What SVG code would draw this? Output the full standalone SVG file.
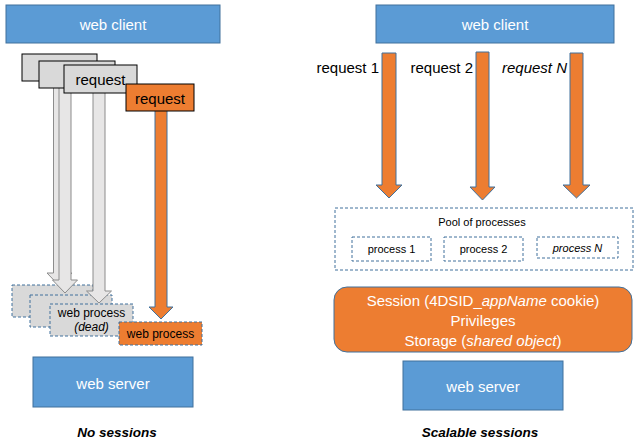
<svg xmlns="http://www.w3.org/2000/svg" width="642" height="442" viewBox="0 0 642 442">
<style>
text{font-family:"Liberation Sans",Arial,sans-serif;text-anchor:middle;dominant-baseline:central}
.blue{fill:#5b9bd5;stroke:#41719c;stroke-width:1}
.wt{fill:#fff;font-size:15px}
.req{fill:#d9d9d9;stroke:#000;stroke-width:1}
.oreq{fill:#ed7d31;stroke:#000;stroke-width:1}
.proc{fill:#d9d9d9;stroke:#41719c;stroke-width:1;stroke-dasharray:3 2}
.oproc{fill:#ed7d31;stroke:#41719c;stroke-width:1;stroke-dasharray:3 2}
.pool{fill:#fff;stroke:#41719c;stroke-width:1;stroke-dasharray:3 2}
.garr{fill:#e7e6e6;stroke:#8c8c8c;stroke-width:1}
.oarr{fill:#ed7d31;stroke:#41719c;stroke-width:1}
.bt{fill:#000;font-size:15px}
.st{fill:#000;font-size:12px}
.pt{fill:#000;font-size:11px}
.cap{fill:#000;font-size:13.5px;font-weight:bold;font-style:italic}
.it{font-style:italic}
</style>

<!-- Left: No sessions -->
<g id="left-web-client"><rect class="blue" x="6" y="5" width="214" height="38"/><text class="wt" x="113" y="24">web client</text></g>

<g id="left-process-1"><rect class="proc" x="12" y="285" width="81" height="32"/></g>
<g id="left-process-2"><rect class="proc" x="30" y="295" width="82" height="32"/></g>
<g id="left-process-dead"><rect class="proc" x="50" y="304" width="83" height="32"/><text class="st" x="91.5" y="313">web process</text><text class="st it" x="91.5" y="327">(dead)</text></g>

<g id="connectors">
<path class="garr" d="M53.5,70 H65.5 V273 H72 L59.5,286 L47,273 H53.5 Z"/>
<path class="garr" d="M59,70 H71 V280 H77.5 L65,293 L52.5,280 H59 Z"/>
<path class="garr" d="M93,80 H105 V291 H111.5 L99,303 L86.5,291 H93 Z"/>
<path class="oarr" d="M155,105 H167 V307 H173 L161,319 L149,307 H155 Z"/>
<path class="oarr" d="M382,53 H396 V185 H402 L389,198 L376,185 H382 Z"/>
<path class="oarr" d="M476,52 H489 V187 H495 L482.5,200 L470,187 H476 Z"/>
<path class="oarr" d="M570,53 H583 V185 H590 L576.5,198 L563,185 H570 Z"/>
</g>

<g id="left-request-1"><rect class="req" x="22" y="54" width="75" height="27"/></g>
<g id="left-request-2"><rect class="req" x="39" y="61" width="76" height="27"/></g>
<g id="left-request-3"><rect class="req" x="64" y="65" width="73" height="28"/><text class="bt" x="100.5" y="79">request</text></g>
<g id="left-request-active"><rect class="oreq" x="126" y="84" width="68" height="27"/><text class="bt" x="160" y="98">request</text></g>

<g id="left-web-process-active"><rect class="oproc" x="119" y="322" width="83" height="23"/><text class="st" x="160.5" y="333.5">web process</text></g>

<g id="left-web-server"><rect class="blue" x="33" y="357" width="160" height="50"/><text class="wt" x="113" y="383">web server</text></g>
<text class="cap" x="117" y="432">No sessions</text>

<!-- Right: Scalable sessions -->
<g id="right-web-client"><rect class="blue" x="376" y="5" width="238" height="38"/><text class="wt" x="495" y="24">web client</text></g>

<g id="labels">
<text class="bt" x="379" y="67" style="text-anchor:end">request 1</text>
<text class="bt" x="473" y="67" style="text-anchor:end">request 2</text>
<text class="bt it" x="567" y="67" style="text-anchor:end">request N</text>
</g>

<g id="pool"><rect class="pool" x="335" y="208" width="298" height="62"/><text class="pt" x="482" y="222">Pool of processes</text></g>
<g id="process-1"><rect class="pool" x="352" y="237" width="79" height="24"/><text class="pt" x="391.5" y="249">process 1</text></g>
<g id="process-2"><rect class="pool" x="444" y="237" width="79" height="24"/><text class="pt" x="483.5" y="249">process 2</text></g>
<g id="process-n"><rect class="pool" x="537" y="237" width="81" height="21"/><text class="pt it" x="577.5" y="247.5">process N</text></g>

<g id="session"><rect x="334" y="287" width="298" height="65" rx="13" ry="13" fill="#ed7d31" stroke="#41719c" stroke-width="1"/>
<text class="wt" x="483" y="300">Session (4DSID_<tspan class="it">appName</tspan> cookie)</text>
<text class="wt" x="483" y="320">Privileges</text>
<text class="wt" x="483" y="340">Storage (<tspan class="it">shared object</tspan>)</text></g>

<g id="right-web-server"><rect class="blue" x="403" y="361" width="160" height="49"/><text class="wt" x="483" y="386">web server</text></g>
<text class="cap" x="480" y="432">Scalable sessions</text>
</svg>
